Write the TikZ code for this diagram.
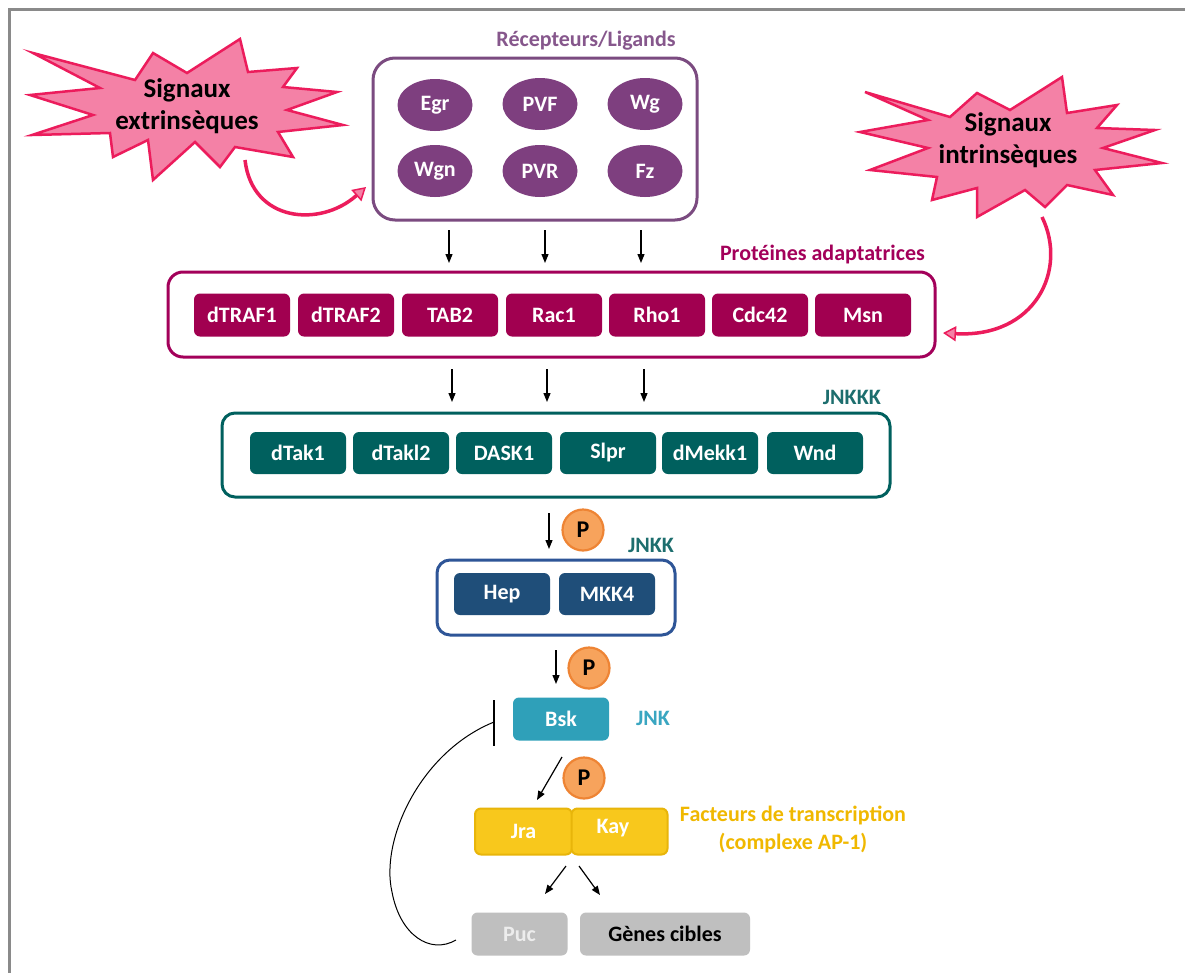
\documentclass[tikz,border=0pt]{standalone}
\usepackage{fontspec}
\setmainfont{Carlito}
\usetikzlibrary{arrows.meta,shapes.geometric}
\definecolor{framegray}{HTML}{8A8A8A}
\definecolor{purpell}{HTML}{7E3F7F}
\definecolor{purpframe}{HTML}{7B4B80}
\definecolor{purplabel}{HTML}{86578C}
\definecolor{adfill}{HTML}{A10050}
\definecolor{adframe}{HTML}{A3005A}
\definecolor{teal}{HTML}{00605E}
\definecolor{teallabel}{HTML}{1D6E6E}
\definecolor{navy}{HTML}{1F4E79}
\definecolor{navyframe}{HTML}{2E5597}
\definecolor{bskcol}{HTML}{2FA0B9}
\definecolor{jnklabel}{HTML}{3AA6C1}
\definecolor{pfill}{HTML}{F7A35C}
\definecolor{pdraw}{HTML}{EE8434}
\definecolor{yelfill}{HTML}{F8C81C}
\definecolor{yeldraw}{HTML}{E8B50A}
\definecolor{yellabel}{HTML}{F0B800}
\definecolor{grayfill}{HTML}{BFBFBF}
\definecolor{puctext}{HTML}{EDEDED}
\definecolor{pinkfill}{HTML}{F481A6}
\definecolor{pinkdraw}{HTML}{EC1C5C}
\newcommand{\boxfont}{\bfseries\fontsize{22}{24}\selectfont}
\newcommand{\labfont}{\bfseries\fontsize{22}{28}\selectfont}
\newcommand{\pfont}{\bfseries\fontsize{24}{26}\selectfont}
\newcommand{\starfont}{\bfseries\fontsize{27}{32}\selectfont}
\tikzset{
  box/.style={rounded corners=6pt, minimum height=43pt, minimum width=96pt, inner sep=0pt, text=white, font=\boxfont},
  adbox/.style={box, fill=adfill},
  tealbox/.style={box, fill=teal, minimum height=42pt},
  navybox/.style={box, fill=navy, minimum height=42pt},
  ell/.style={ellipse, fill=purpell, minimum width=75pt, minimum height=52pt, inner sep=0pt, text=white, font=\boxfont},
  frame/.style={draw, line width=3pt, fill=white, inner sep=0pt},
  arr/.style={line width=1.2pt, -{Triangle[length=9pt,width=7pt]}},
  pcirc/.style={circle, fill=pfill, draw=pdraw, line width=2.2pt, minimum size=41pt, inner sep=0pt, font=\pfont},
  lab/.style={font=\labfont, inner sep=0pt},
  pinkarrow/.style={draw=pinkdraw, line width=3.5pt, -{Triangle[length=13pt,width=15pt,fill=pinkfill,line width=1.5pt]}},
  star/.style={fill=pinkfill, draw=pinkdraw, line width=2.5pt, line join=miter},
}
\begin{document}
\begin{tikzpicture}[x=1pt,y=-1pt]
\useasboundingbox (0,0) rectangle (1185,972);
\clip (0,0) rectangle (1185,972);
\fill[white] (0,0) rectangle (1185,972);
\draw[framegray, line width=3pt] (9,9) rectangle (1200,990);

% stars
\draw[star] (33,53) -- (135,80) -- (153,53) -- (187,73) -- (240,39) -- (248,72) -- (297,68) -- (283,87) -- (337,92) -- (287,110) -- (343,125) -- (278,132) -- (293,157) -- (235,147) -- (220,167) -- (195,142) -- (153,180) -- (148,140) -- (113,157) -- (110,133) -- (32,135) -- (93,115) -- (30,95) -- (100,88) -- cycle;
\node[font=\starfont, align=center, inner sep=0pt] (sigext) at (187,106) {Signaux\\extrinsèques};
\draw[star] (865,92) -- (950,117) -- (977,93) -- (1010,110) -- (1062,77) -- (1067,113) -- (1117,105) -- (1097,128) -- (1155,130) -- (1103,148) -- (1162,163) -- (1095,170) -- (1113,195) -- (1067,185) -- (1045,207) -- (1025,190) -- (977,217) -- (977,188) -- (932,200) -- (937,177) -- (870,170) -- (928,148) -- (860,132) -- (928,120) -- cycle;
\node[font=\starfont, align=center, inner sep=0pt] (sigint) at (1008,140) {Signaux\\intrinsèques};

% receptor box
\node[lab, text=purplabel] (reclab) at (586,41) {Récepteurs/Ligands};
\node[frame, draw=purpframe, rounded corners=22pt, minimum width=324pt, minimum height=162pt] (rec) at (535,139) {};
\node[ell] (egr) at (435,105) {Egr};
\node[ell] (pvf) at (540,104) {PVF};
\node[ell] (wg)  at (645,104) {Wg};
\node[ell] (wgn) at (435,171) {Wgn};
\node[ell] (pvr) at (540,171) {PVR};
\node[ell] (fz)  at (645,171) {Fz};

% pink curved arrows
\coordinate (t1) at (245,160);
\coordinate (h1) at (366,187);
\draw[pinkarrow] (t1) .. controls (252,222) and (320,228) .. (h1);
\coordinate (t2) at (1042,217);
\coordinate (h2) at (943,333);
\draw[pinkarrow] (t2) .. controls (1068,270) and (1035,338) .. (h2);

% adaptor
\node[lab, text=adframe, anchor=east] (adlab) at (925,255) {Protéines adaptatrices};
\node[frame, draw=adframe, rounded corners=15pt, minimum width=767pt, minimum height=85pt] (adap) at (551.5,314.5) {};
\node[adbox] (dtraf1) at (242,315) {dTRAF1};
\node[adbox] (dtraf2) at (346,315) {dTRAF2};
\node[adbox] (tab2) at (450,315) {TAB2};
\node[adbox] (rac1) at (554,315) {Rac1};
\node[adbox] (rho1) at (657,315) {Rho1};
\node[adbox] (cdc42) at (760,315) {Cdc42};
\node[adbox] (msn) at (863,315) {Msn};

\coordinate (a1s) at (449,230); \coordinate (a1e) at (449,263);
\coordinate (a2s) at (545,230); \coordinate (a2e) at (545,263);
\coordinate (a3s) at (641,230); \coordinate (a3e) at (641,263);
\draw[arr] (a1s) -- (a1e);
\draw[arr] (a2s) -- (a2e);
\draw[arr] (a3s) -- (a3e);

% JNKKK
\node[lab, text=teallabel, anchor=east] (jnkkklab) at (881,397) {JNKKK};
\node[frame, draw=teal, rounded corners=13pt, minimum width=668pt, minimum height=84pt] (jnkkk) at (556,455) {};
\node[tealbox] (dtak1) at (298,453) {dTak1};
\node[tealbox] (dtakl2) at (401,453) {dTakl2};
\node[tealbox] (dask1) at (504,453) {DASK1};
\node[tealbox] (slpr) at (608,453) {Slpr};
\node[tealbox] (dmekk1) at (710,453) {dMekk1};
\node[tealbox] (wnd) at (815,453) {Wnd};

\coordinate (b1s) at (452,369); \coordinate (b1e) at (452,402);
\coordinate (b2s) at (547,369); \coordinate (b2e) at (547,402);
\coordinate (b3s) at (644,369); \coordinate (b3e) at (644,402);
\draw[arr] (b1s) -- (b1e);
\draw[arr] (b2s) -- (b2e);
\draw[arr] (b3s) -- (b3e);

% JNKK
\coordinate (c1s) at (549,513); \coordinate (c1e) at (549,549);
\draw[arr] (c1s) -- (c1e);
\node[pcirc] (p1) at (583,530) {P};
\node[lab, text=teallabel] (jnkklab) at (651,545) {JNKK};
\node[frame, draw=navyframe, rounded corners=13pt, minimum width=238pt, minimum height=75pt] (jnkk) at (556,597.5) {};
\node[navybox] (hep) at (502,594) {Hep};
\node[navybox] (mkk4) at (607,594) {MKK4};

% JNK
\coordinate (d1s) at (556,650); \coordinate (d1e) at (556,684);
\draw[arr] (d1s) -- (d1e);
\node[pcirc] (p2) at (589,668) {P};
\node[box, fill=bskcol] (bsk) at (561,719) {Bsk};
\node[lab, text=jnklabel] (jnklab) at (653,718) {JNK};

% AP-1
\node[pcirc] (p3) at (584,778) {P};
\node[box, fill=yelfill, draw=yeldraw, line width=2pt, minimum width=97pt, minimum height=46pt] (jra) at (523.5,831.5) {Jra};
\node[box, fill=yelfill, draw=yeldraw, line width=2pt, minimum width=96pt, minimum height=46pt] (kay) at (619.5,831.5) {};
\node[font=\boxfont, text=white, inner sep=0pt] (kaytxt) at (613,828) {Kay};
\node[lab, text=yellabel, align=center] (aplab) at (793,829) {Facteurs de transcription\\(complexe AP-1)};
\coordinate (e1s) at (562,757); \coordinate (e1e) at (537,800);
\draw[arr] (e1s) -- (e1e);

\coordinate (f1s) at (566,866); \coordinate (f1e) at (545,894);
\coordinate (f2s) at (579,866); \coordinate (f2e) at (600,895);
\draw[arr] (f1s) -- (f1e);
\draw[arr] (f2s) -- (f2e);

% targets
\node[box, fill=grayfill, text=puctext] (puc) at (519.5,934) {Puc};
\node[box, fill=grayfill, text=black, minimum width=170pt] (genes) at (665,934) {Gènes cibles};

% feedback inhibition
\coordinate (bart) at (494,700);
\coordinate (barb) at (494,746);
\coordinate (barm) at (494,722);
\coordinate (fbend) at (456,940);
\draw[line width=1.2pt] (bart) -- (barb);
\draw[line width=1pt] (barm) .. controls (420,752) and (380,840) .. (392,892) .. controls (400,935) and (430,955) .. (fbend);
\end{tikzpicture}
\end{document}
